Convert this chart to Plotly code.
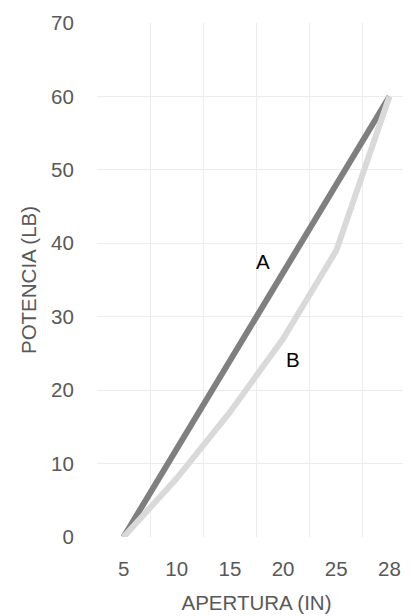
import plotly.graph_objects as go

categories = ["5", "10", "15", "20", "25", "28"]
series_a = [0, 12, 24, 36, 48, 60]
series_b = [0, 8, 17, 27, 39, 60]
y_ticks = [0, 10, 20, 30, 40, 50, 60, 70]

FONT = "Liberation Sans, Arial, sans-serif"
GRAY = "#595959"
FS = 20.5

fig = go.Figure()
fig.add_trace(go.Scatter(x=categories, y=series_a, mode="lines",
                         line=dict(color="#7f7f7f", width=6), name="A"))
fig.add_trace(go.Scatter(x=categories, y=series_b, mode="lines",
                         line=dict(color="#d9d9d9", width=6), name="B"))

fig.add_annotation(x=2.62, y=37.5, text="A", showarrow=False,
                   font=dict(family=FONT, size=FS, color="#000000"))
fig.add_annotation(x=3.19, y=24.2, text="B", showarrow=False,
                   font=dict(family=FONT, size=FS, color="#000000"))

fig.update_layout(
    width=411, height=616,
    margin=dict(l=89, r=3, t=12, b=87),
    paper_bgcolor="white", plot_bgcolor="white",
    showlegend=False,
    font=dict(family=FONT, size=FS, color=GRAY),
)
fig.update_xaxes(
    type="category", categoryorder="array", categoryarray=categories,
    range=[-0.5, 5.5], tickson="boundaries",
    showgrid=True, gridcolor="#ececec", gridwidth=1,
    ticks="", ticklabelstandoff=17,
    showline=False, zeroline=False,
    tickfont=dict(family=FONT, size=FS, color=GRAY),
    title=dict(text="APERTURA (IN)", font=dict(family=FONT, size=FS, color=GRAY), standoff=17),
)
fig.update_yaxes(
    range=[0, 70], tickvals=y_ticks,
    showgrid=True, gridcolor="#ececec", gridwidth=1,
    zeroline=False, showline=False,
    ticks="outside", ticklen=18, tickcolor="rgba(0,0,0,0)",
    tickfont=dict(family=FONT, size=FS, color=GRAY),
    title=dict(text="POTENCIA (LB)", font=dict(family=FONT, size=FS, color=GRAY), standoff=8),
)

fig.write_html("out.html")
